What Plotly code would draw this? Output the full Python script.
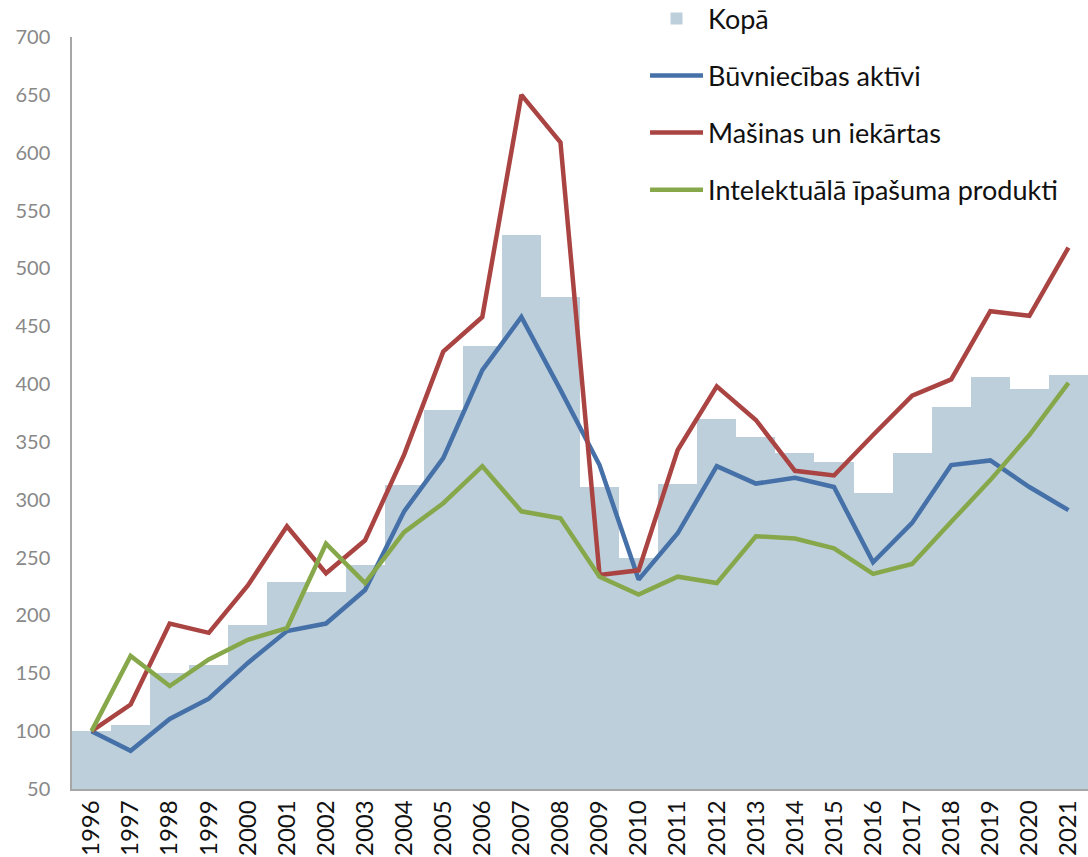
import plotly.graph_objects as go

years = [str(y) for y in range(1996, 2022)]
kopa = [100, 105, 150.5, 157, 192, 229, 220, 244, 313, 378, 433, 529, 475, 311, 250, 314,
        370, 354, 340, 333, 306, 340, 380, 406, 396, 407.5]
buvn = [100, 83, 110.5, 128, 159, 186.5, 193, 222, 290, 336, 412, 458, 395, 330, 231, 271,
        329, 314, 319, 311, 246, 280, 330, 334, 311, 291]
masinas = [100, 123, 193, 185, 226, 277, 236.5, 265, 339, 428, 458, 650, 609, 235, 239, 343,
           398, 369, 325, 321, 356, 390, 404, 463, 459, 518]
intel = [100, 165, 139, 162, 179, 189, 262, 228, 272, 297, 329, 290, 284, 233.5, 218, 233.5,
         228, 268.5, 266.5, 258, 236, 244.5, 281, 317, 356, 401]

FONT = "Lato"

fig = go.Figure()
fig.add_trace(go.Bar(x=years, y=kopa, name="Kopā", marker=dict(color="#BDCFDB", line_width=0),
                     legendgroup="a"))
fig.add_trace(go.Scatter(x=years, y=buvn, name="Būvniecības aktīvi", mode="lines",
                         line=dict(color="#4570A8", width=4.5), legendgroup="b"))
fig.add_trace(go.Scatter(x=years, y=masinas, name="Mašinas un iekārtas", mode="lines",
                         line=dict(color="#AA4442", width=4.5), legendgroup="c"))
fig.add_trace(go.Scatter(x=years, y=intel, name="Intelektuālā īpašuma produkti", mode="lines",
                         line=dict(color="#87A84A", width=4.5), legendgroup="d"))

fig.update_layout(
    width=1088, height=857,
    margin=dict(l=72, r=0, t=37, b=68, autoexpand=False),
    plot_bgcolor="white", paper_bgcolor="white",
    bargap=0,
    font=dict(family=FONT, size=20, color="#222222"),
    showlegend=True,
    legend=dict(x=0.564, y=1.0567, xanchor="left", yanchor="top",
                bgcolor="rgba(0,0,0,0)", font=dict(size=27, color="#111111"),
                tracegroupgap=19, itemwidth=53),
    xaxis=dict(type="category", tickangle=-90, showgrid=False, showline=True,
               linecolor="#A6A6A6", linewidth=1.5, ticks="", automargin=False,
               tickfont=dict(size=24, color="#111111"), range=[-0.5, 25.5]),
    yaxis=dict(range=[50, 700], dtick=50, showgrid=False, showline=True,
               linecolor="#A6A6A6", linewidth=1.5, ticks="", zeroline=False,
               automargin=False, ticklabelstandoff=16,
               tickfont=dict(size=20, color="#888888")),
)

fig.write_html("out.html", config={"displayModeBar": False},
               post_script="document.body.style.margin='0';document.body.style.overflow='hidden';")
